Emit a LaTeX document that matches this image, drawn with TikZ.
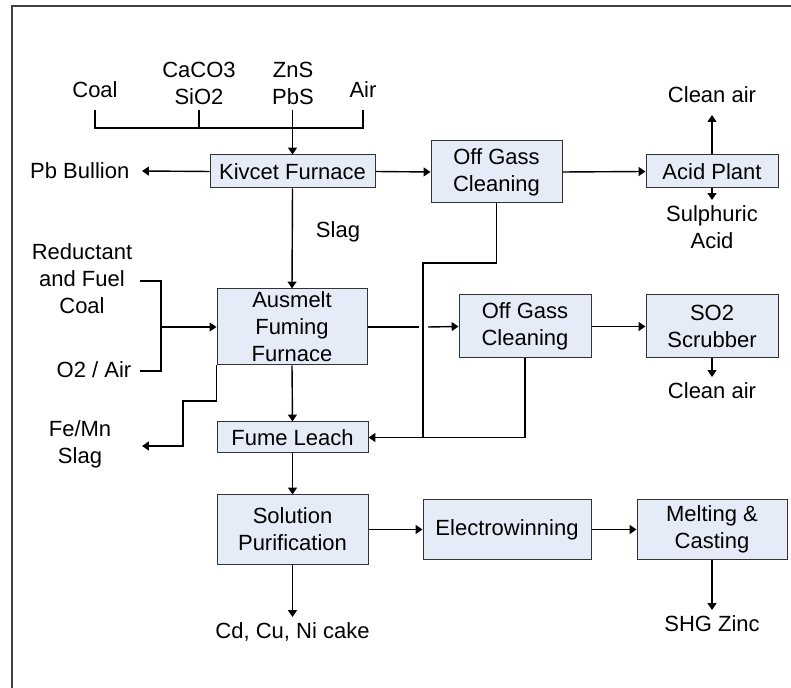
\documentclass[tikz,border=0pt]{standalone}
\usepackage{fontspec}
\setmainfont{Liberation Sans}
\usepackage{tikz}
\usetikzlibrary{arrows.meta}

\definecolor{relleno}{RGB}{230,236,247}
\tikzset{
  caja/.style={draw=black!80, line width=0.5pt, fill=relleno, inner sep=0pt, align=center},
  rotulo/.style={inner sep=2.5pt, align=center},
  flecha/.style={-{Triangle[length=3.4pt,width=4.4pt]}},
  linea/.style={line width=0.7pt},
  marco/.style={line width=1pt, draw=black!75}
}

\begin{document}
\begin{tikzpicture}[x=0.5pt, y=-0.5pt, font=\fontsize{11}{13.5}\selectfont, linea]
			\useasboundingbox (0,0) rectangle (791,688);
			% Marco
			\draw[marco] (791,6) -- (12,6) -- (12,688);
			
			% Cajas
			\node[caja, minimum width=82.5pt, minimum height=16.5pt] (kivcet) at (292.5,171.5) {Kivcet Furnace};
			\node[caja, minimum width=65.5pt, minimum height=31pt] (ogc1) at (496.5,172) {Off Gass\\Cleaning};
			\node[caja, minimum width=66pt, minimum height=16.5pt] (acid) at (712,171.5) {Acid Plant};
			\node[caja, minimum width=75pt, minimum height=38pt] (ausmelt) at (292,327) {Ausmelt\\Fuming\\Furnace};
			\node[caja, minimum width=66pt, minimum height=31.5pt] (ogc2) at (525,326.5) {Off Gass\\Cleaning};
			\node[caja, minimum width=66pt, minimum height=31.5pt] (scrub) at (712,326.5) {SO2\\Scrubber};
			\node[caja, minimum width=75.5pt, minimum height=15.5pt] (leach) at (292.5,437.5) {Fume Leach};
			\node[caja, minimum width=75.5pt, minimum height=34.5pt] (purif) at (292.5,529.5) {Solution\\Purification};
			\node[caja, minimum width=84pt, minimum height=29.5pt] (ewin) at (507,529.5) {Electrowinning};
			\node[caja, minimum width=75pt, minimum height=29.5pt] (melt) at (712,529.5) {Melting \&\\Casting};
			
			% Entradas
			\node[rotulo] (coal) at (95,90) {Coal};
			\node[rotulo] (caco) at (199,83) {CaCO3\\SiO2};
			\node[rotulo] (zns) at (293,83) {ZnS\\PbS};
			\node[rotulo] (air) at (363,90) {Air};
			\node[rotulo] (reduct) at (82,279) {Reductant\\and Fuel\\Coal};
			\node[rotulo] (oair) at (94,370) {O2 / Air};
			\node[rotulo] (slag) at (338,232) {Slag};
			
			% Salidas
			\node[rotulo, anchor=east, inner sep=6pt] (bullion) at (142,171) {Pb Bullion};
			\node[rotulo, anchor=south, inner sep=6pt] (cleanA) at (712,115) {Clean air};
			\node[rotulo, anchor=north] (sulph) at (712,200) {Sulphuric\\Acid};
			\node[rotulo, anchor=north] (cleanB) at (712,377) {Clean air};
			\node[rotulo] (femn) at (80,444) {Fe/Mn\\Slag};
			\node[rotulo, anchor=north] (cake) at (292.5,617) {Cd, Cu, Ni cake};
			\node[rotulo, anchor=north] (zinc) at (712,610) {SHG Zinc};
			
			% Puntos de paso
			\coordinate (stub) at (0,110);
			\coordinate (bus) at (0,128);
			\coordinate (redIn) at (140,281);
			\coordinate (o2In) at (140,371);
			\coordinate (junta) at (161,327);
			\coordinate (esc) at (183,401);
			\coordinate (femnEnd) at (142,446);
			\coordinate (saltoA) at (419,327);
			\coordinate (saltoB) at (428,327);
			\coordinate (codo) at (423,263);
			
			% Alimentacion del Kivcet
			\draw (coal |- stub) -- (coal |- bus) -- (air |- bus) -- (air |- stub);
			\draw (caco |- stub) -- (caco |- bus);
			\draw[flecha] (kivcet.north |- stub) -- (kivcet.north);
			
			% Flujos principales
			\draw[flecha] (kivcet.west) -- (bullion.east);
			\draw[flecha] (kivcet.east) -- (ogc1.west);
			\draw[flecha] (ogc1.east) -- (acid.west);
			\draw[flecha] (acid.north) -- (cleanA.south);
			\draw[flecha] (acid.south) -- (sulph.north);
			\draw[flecha] (kivcet.south) -- (ausmelt.north);
			\draw (redIn) -| (junta) |- (o2In);
			\draw[flecha] (junta) -- (ausmelt.west);
			\draw (ausmelt.east) -- (saltoA);
			\draw[flecha] (saltoB) -- (ogc2.west);
			\draw[flecha] (ogc2.east) -- (scrub.west);
			\draw[flecha] (scrub.south) -- (cleanB.north);
			\draw[flecha] (ausmelt.south west) |- (esc) |- (femnEnd);
			\draw[flecha] (ausmelt.south) -- (leach.north);
			\draw[flecha] (ogc1.south) |- (codo) |- (leach.east);
			\draw (ogc2.south) |- (codo |- leach.east);
			\draw[flecha] (leach.south) -- (purif.north);
			\draw[flecha] (purif.east) -- (ewin.west);
			\draw[flecha] (ewin.east) -- (melt.west);
			\draw[flecha] (purif.south) -- (cake.north);
			\draw[flecha] (melt.south) -- (zinc.north);
		\end{tikzpicture}
\end{document}
